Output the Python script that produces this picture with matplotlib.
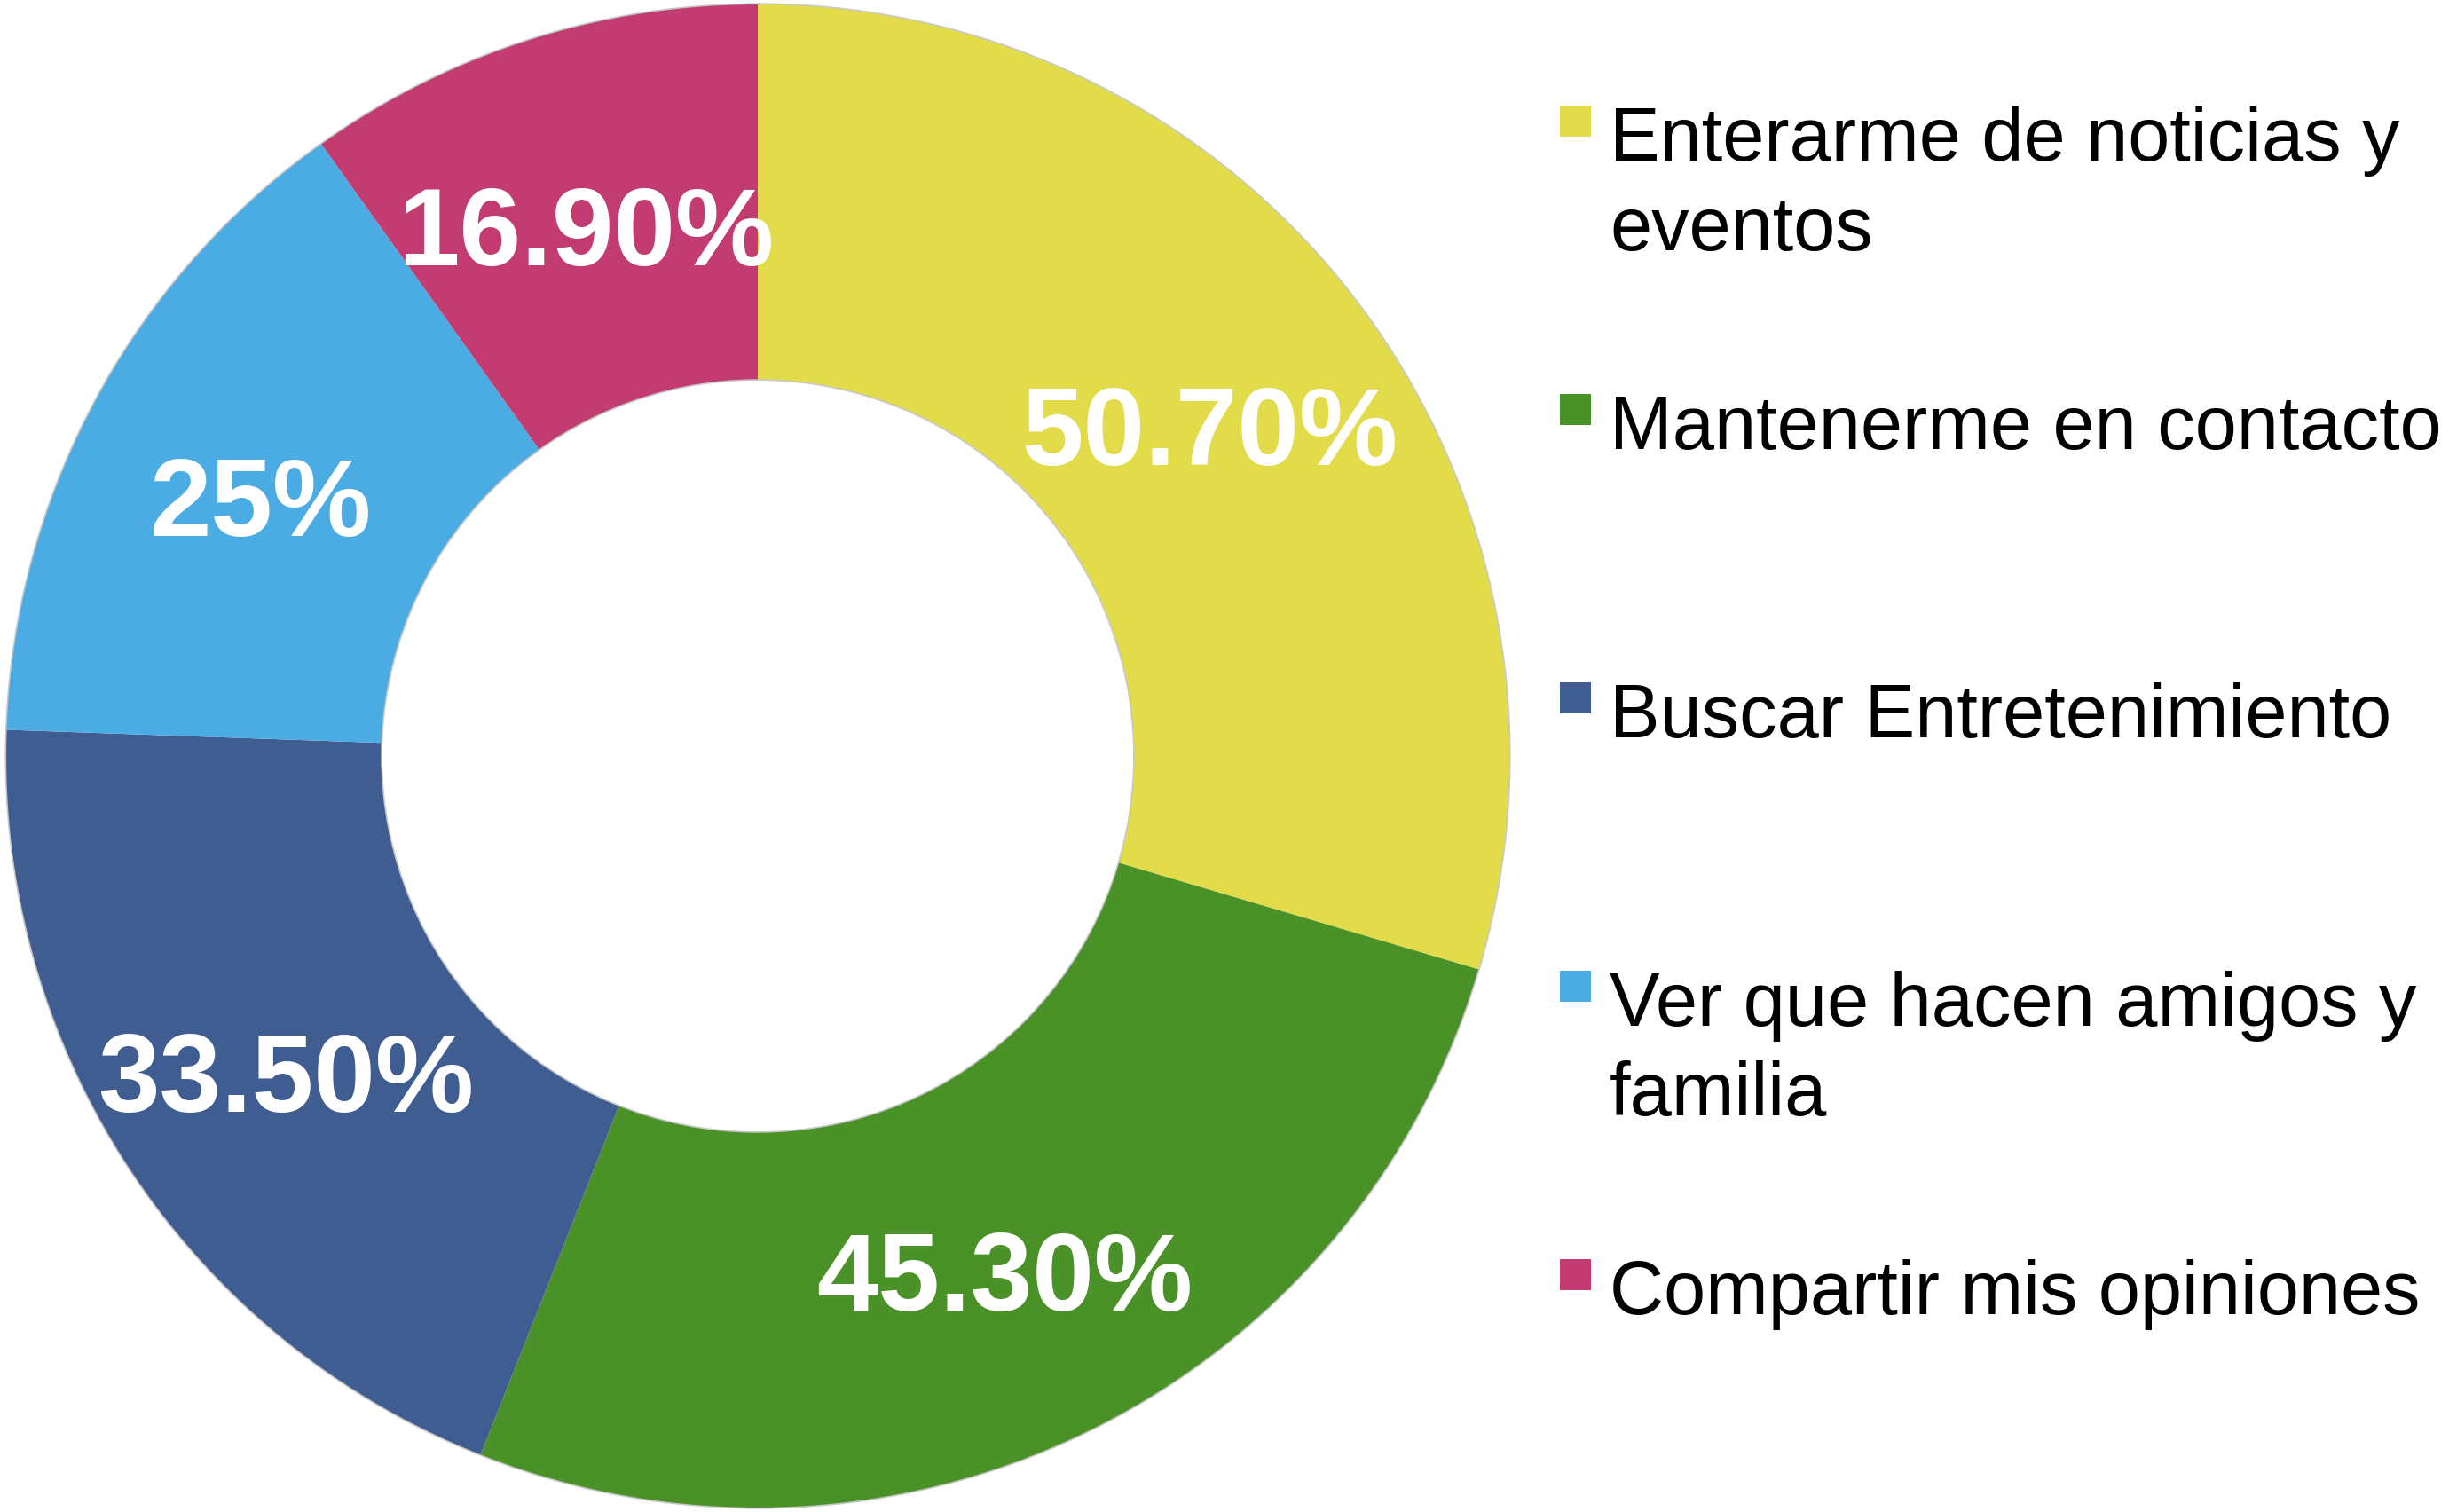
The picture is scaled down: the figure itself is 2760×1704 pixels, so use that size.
import numpy as np
import matplotlib.pyplot as plt
from matplotlib.patches import Circle, Rectangle

# datos
categorias = ['Enterarme de noticias y\neventos', 'Mantenerme en contacto',
              'Buscar Entretenimiento', 'Ver que hacen amigos y\nfamilia',
              'Compartir mis opiniones']
valores = [50.7, 45.3, 33.5, 25.0, 16.9]
etiquetas = ['50.70%', '45.30%', '33.50%', '25%', '16.90%']
colores = ['#E2DC4A', '#4A9128', '#405D92', '#4BACE4', '#C23B71']

plt.rcParams['font.family'] = ['Liberation Sans', 'DejaVu Sans']

W, H = 2760, 1704
fig = plt.figure(figsize=(W / 100, H / 100), dpi=100)
fig.patch.set_facecolor('white')

# dona
ax = fig.add_axes([2 / W, 0, 1704 / W, 1])
wedges, _ = ax.pie(valores, colors=colores, startangle=90, counterclock=False,
                   radius=1.0, wedgeprops=dict(width=0.5, edgecolor='none'))
ax.add_patch(Circle((0, 0), 1.0, fill=False, edgecolor='#c8c8c8', lw=1.2))
ax.add_patch(Circle((0, 0), 0.5, fill=False, edgecolor='#c8c8c8', lw=1.2))
ax.set_xlim(-1.005, 1.005)
ax.set_ylim(-1.005, 1.005)
ax.set_aspect('equal')
ax.axis('off')

for w, txt in zip(wedges, etiquetas):
    ang = np.deg2rad((w.theta1 + w.theta2) / 2)
    ax.annotate(txt, (0.75 * np.cos(ang), 0.75 * np.sin(ang)),
                xytext=(0, -15), textcoords='offset points',
                ha='center', va='center', color='white',
                fontsize=90, fontweight='bold')

# leyenda
lax = fig.add_axes([0, 0, 1, 1])
lax.set_xlim(0, W)
lax.set_ylim(H, 0)
lax.axis('off')
base = 181
paso = 325
for i, (cat, col) in enumerate(zip(categorias, colores)):
    y = base + i * paso
    lax.add_patch(Rectangle((1758, y - 62), 35, 35, facecolor=col, edgecolor='none'))
    lineas = cat.split('\n')
    for j, linea in enumerate(lineas):
        lax.text(1814, y + j * 101, linea, ha='left', va='baseline',
                 fontsize=61, color='black')

fig.savefig('out.png', dpi=100, facecolor='white')
